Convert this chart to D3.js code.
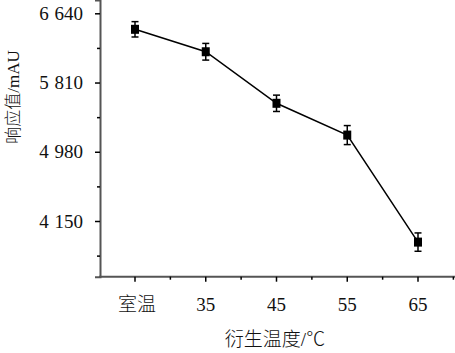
<!DOCTYPE html>
<html><head><meta charset="utf-8">
<script src="https://cdn.jsdelivr.net/npm/d3@7"></script>
<style>body{margin:0;background:#fff}svg{display:block}</style>
</head><body>
<svg id="c" width="455" height="353"></svg>
<script>
const categories = ["室温", "35", "45", "55", "65"];
const values = [6448, 6179, 5561, 5180, 3897];
const errors = [92, 100, 98, 114, 110];
const yTicks = [4150, 4980, 5810, 6640];
const yTickLabels = ["4 150", "4 980", "5 810", "6 640"];
const yMinorTicks = [3735, 4565, 5395, 6225];
const xTitle = "衍生温度/℃";
const yTitle = "响应值/mAU";

const svg = d3.select("#c");
const serif = "'Liberation Serif','Times New Roman','Noto Sans CJK SC',serif";
const axL = 100, axB = 276.7;
const y = d3.scaleLinear().domain([4150, 6640]).range([221, 13.3]);
const yTop = y.invert(0), yBot = y.invert(axB);
y.domain([yBot, yTop]).range([axB, 0]);
const x = d3.scalePoint().domain(categories).range([135, 418]);
const step = x.step();

// y axis
const gy = svg.append("g").attr("transform", `translate(${axL},0)`);
gy.call(d3.axisLeft(y).tickValues(yTicks).tickSize(5).tickFormat((d,i)=>yTickLabels[i]).tickPadding(12));
gy.append("g").call(d3.axisLeft(y).tickValues(yMinorTicks).tickSize(3).tickFormat(""))
  .select(".domain").remove();
gy.selectAll(".domain").attr("stroke", "#555").attr("stroke-width", 2);
gy.selectAll(".tick line").attr("stroke", "#000").attr("stroke-width", 1.5);
gy.selectAll(".tick text").attr("font-family", serif).attr("font-size", 19)
  .attr("word-spacing", 1).attr("fill", "#111");

// x axis
const gx = svg.append("g").attr("transform", `translate(0,${axB})`);
gx.append("line").attr("x1", axL - 1).attr("x2", 455).attr("stroke", "#555").attr("stroke-width", 2);
const xMinor = categories.map(c => x(c) + step / 2);
gx.selectAll(".maj").data(categories).join("line")
  .attr("x1", d => x(d)).attr("x2", d => x(d)).attr("y1", 0).attr("y2", 5)
  .attr("stroke", "#000").attr("stroke-width", 1.5);
gx.selectAll(".min").data(xMinor).join("line")
  .attr("x1", d => d).attr("x2", d => d).attr("y1", 0).attr("y2", 3)
  .attr("stroke", "#000").attr("stroke-width", 1.5);
gx.selectAll(".lab").data(categories).join("text")
  .attr("x", d => x(d) + (d === "室温" ? 2 : 0)).attr("y", 34)
  .attr("text-anchor", "middle").attr("font-family", serif).attr("font-size", 19)
  .attr("font-weight", 300).attr("fill", "#111")
  .text(d => d);

// titles
svg.append("text").attr("x", 275).attr("y", 346).attr("text-anchor", "middle")
  .attr("font-family", serif).attr("font-size", 19).attr("font-weight", 300).attr("fill", "#111").text(xTitle);
svg.append("text").attr("transform", "translate(19,97) rotate(-90)").attr("text-anchor", "middle")
  .attr("font-family", serif).attr("font-size", 17).attr("font-weight", 300).attr("fill", "#111").text(yTitle);

// data
const data = categories.map((c, i) => ({c, v: values[i], e: errors[i]}));
svg.append("path").datum(data)
  .attr("d", d3.line().x(d => x(d.c)).y(d => y(d.v)))
  .attr("fill", "none").attr("stroke", "#000").attr("stroke-width", 1.5);
const eb = svg.append("g").attr("stroke", "#000").attr("stroke-width", 1.5);
data.forEach(d => {
  const cx = x(d.c);
  eb.append("line").attr("x1", cx).attr("x2", cx).attr("y1", y(d.v + d.e)).attr("y2", y(d.v - d.e));
  [d.v + d.e, d.v - d.e].forEach(v => eb.append("line")
    .attr("x1", cx - 3.5).attr("x2", cx + 3.5).attr("y1", y(v)).attr("y2", y(v)));
});
svg.selectAll(".pt").data(data).join("rect")
  .attr("x", d => x(d.c) - 4).attr("y", d => y(d.v) - 4.5)
  .attr("width", 8).attr("height", 9).attr("fill", "#000");
</script>
</body></html>
